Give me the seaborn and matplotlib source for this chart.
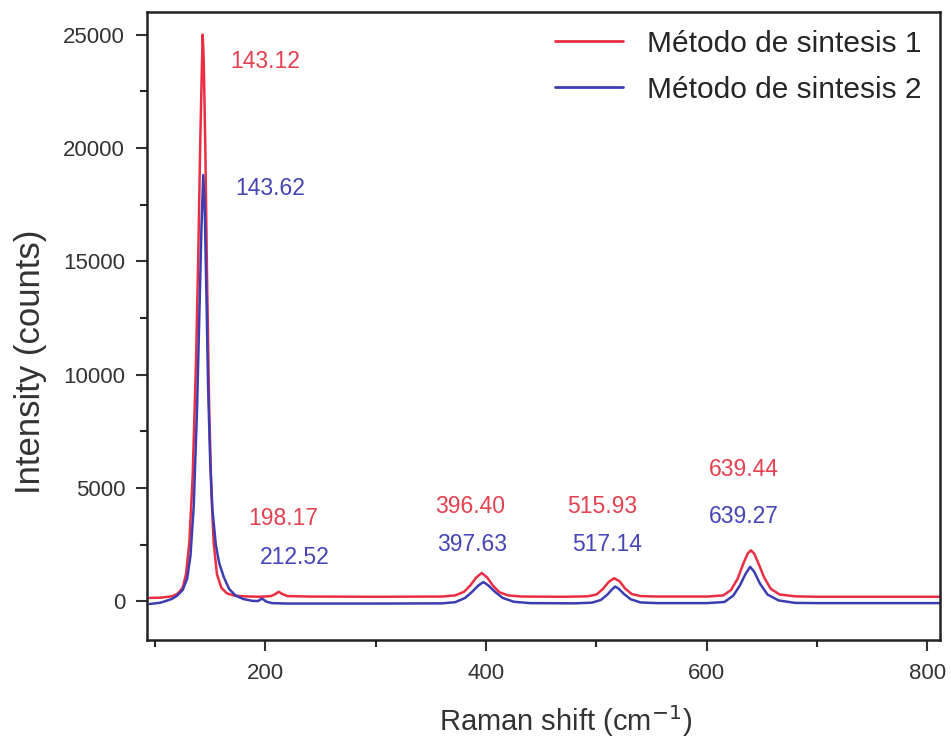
import matplotlib
matplotlib.use("Agg")
import matplotlib.pyplot as plt
import seaborn as sns
import pandas as pd
from matplotlib.ticker import MultipleLocator

# Raman spectra (shift in cm-1, intensity in counts)
shift_1 = [95, 105, 115, 120, 125, 128, 131, 134, 137, 139, 141, 142.5, 143.1, 144, 145.5, 147, 149, 151, 153,
           156, 160, 165, 172, 180, 195, 205, 209, 212, 215, 220, 240, 300, 360, 372, 380, 386, 391, 396, 401,
           406, 412, 420, 432, 470, 492, 500, 506, 511, 516, 521, 526, 532, 540, 555, 600, 615, 622, 628, 633,
           637, 640, 643, 647, 652, 658, 666, 680, 700, 760, 811]
int_1 = [150, 160, 220, 320, 600, 1200, 2600, 5500, 10500, 15000, 20500, 23800, 25000, 24000, 20000, 14500,
         8500, 4800, 2600, 1200, 600, 350, 250, 220, 200, 230, 320, 420, 330, 230, 210, 200, 210, 260, 420,
         720, 1050, 1250, 1050, 700, 400, 260, 210, 200, 220, 300, 550, 850, 1020, 880, 560, 320, 230, 210, 210,
         260, 500, 1000, 1650, 2100, 2250, 2100, 1650, 1050, 550, 300, 220, 200, 200, 200]

shift_2 = [95, 105, 115, 120, 125, 129, 132, 135, 138, 140, 142, 143.6, 145, 146.5, 148, 150, 152, 155, 158,
           162, 167, 173, 180, 188, 193, 197, 201, 206, 220, 300, 360, 372, 381, 388, 393, 397.6, 402, 408,
           415, 425, 440, 480, 496, 504, 510, 514, 517, 520, 525, 531, 540, 555, 600, 616, 624, 630, 635, 639.3,
           643, 648, 655, 665, 680, 700, 760, 811]
int_2 = [-120, -60, 100, 250, 500, 1000, 2000, 4200, 8500, 12500, 16500, 18800, 17200, 13500, 9500, 6000, 4000,
         2500, 1700, 1100, 550, 250, 100, 20, 10, 120, -20, -80, -100, -100, -90, -40, 150, 450, 700, 850, 700,
         420, 150, -20, -80, -90, -60, 60, 300, 520, 650, 560, 320, 90, -50, -80, -80, -30, 250, 700, 1200,
         1520, 1300, 800, 300, 40, -70, -80, -80, -80]

peak_labels_1 = ["143.12", "198.17", "396.40", "515.93", "639.44"]
peak_label_x_1 = [200, 216, 385.5, 505, 633.5]
peak_label_y_1 = [23800, 3650, 4200, 4200, 5800]
peak_labels_2 = ["143.62", "212.52", "397.63", "517.14", "639.27"]
peak_label_x_2 = [204.5, 227, 387, 509.5, 634]
peak_label_y_2 = [18200, 1950, 2500, 2500, 3750]

series_names = ["Método de sintesis 1", "Método de sintesis 2"]
red = "#ea2f45"
blue = "#3d3db2"

df = pd.concat([
    pd.DataFrame({"shift": shift_1, "intensity": int_1, "method": series_names[0]}),
    pd.DataFrame({"shift": shift_2, "intensity": int_2, "method": series_names[1]}),
])

sns.set_style("ticks")
plt.rcParams["font.family"] = ["Liberation Sans", "DejaVu Sans"]

fig = plt.figure(figsize=(9.51, 7.44), dpi=100)
ax = fig.add_axes([0.155, 0.14, 0.833, 0.844])

sns.lineplot(data=df, x="shift", y="intensity", hue="method", sort=False,
             palette={series_names[0]: red, series_names[1]: blue},
             linewidth=1.8, ax=ax, estimator=None)

for t, x, y in zip(peak_labels_1, peak_label_x_1, peak_label_y_1):
    ax.text(x, y, t, color="#e4404f", fontsize=16.5, ha="center", va="center")
for t, x, y in zip(peak_labels_2, peak_label_x_2, peak_label_y_2):
    ax.text(x, y, t, color="#4545b5", fontsize=16.5, ha="center", va="center")

ax.set_xlim(93, 811)
ax.set_ylim(-1700, 26000)
ax.xaxis.set_major_locator(MultipleLocator(200))
ax.xaxis.set_minor_locator(MultipleLocator(100))
ax.yaxis.set_major_locator(MultipleLocator(5000))
ax.yaxis.set_minor_locator(MultipleLocator(2500))
ax.tick_params(axis="both", which="major", length=8, width=1.5, labelsize=16, colors="#333333",
               top=False, right=False)
ax.tick_params(axis="x", which="major", pad=9)
ax.tick_params(axis="y", which="major", pad=8)
ax.tick_params(axis="both", which="minor", length=5, width=1.5, top=False, right=False)
for s in ax.spines.values():
    s.set_linewidth(1.8)
    s.set_color("#222222")

ax.set_xlabel("Raman shift (cm$^{-1}$)", fontsize=21, color="#333333")
ax.xaxis.label.set_va("center")
ax.xaxis.set_label_coords(0.528, -0.13)
ax.set_ylabel("Intensity (counts)", fontsize=25, color="#333333")
ax.yaxis.label.set_va("center")
ax.yaxis.set_label_coords(-0.148, 0.443)

leg = ax.legend(loc="upper right", frameon=False, fontsize=21.5, handlelength=2.3,
                handletextpad=0.8, labelspacing=0.6, borderaxespad=0.2,
                bbox_to_anchor=(1.0, 1.0))
for line in leg.get_lines():
    line.set_linewidth(2)

fig.savefig("out.png", dpi=100)
